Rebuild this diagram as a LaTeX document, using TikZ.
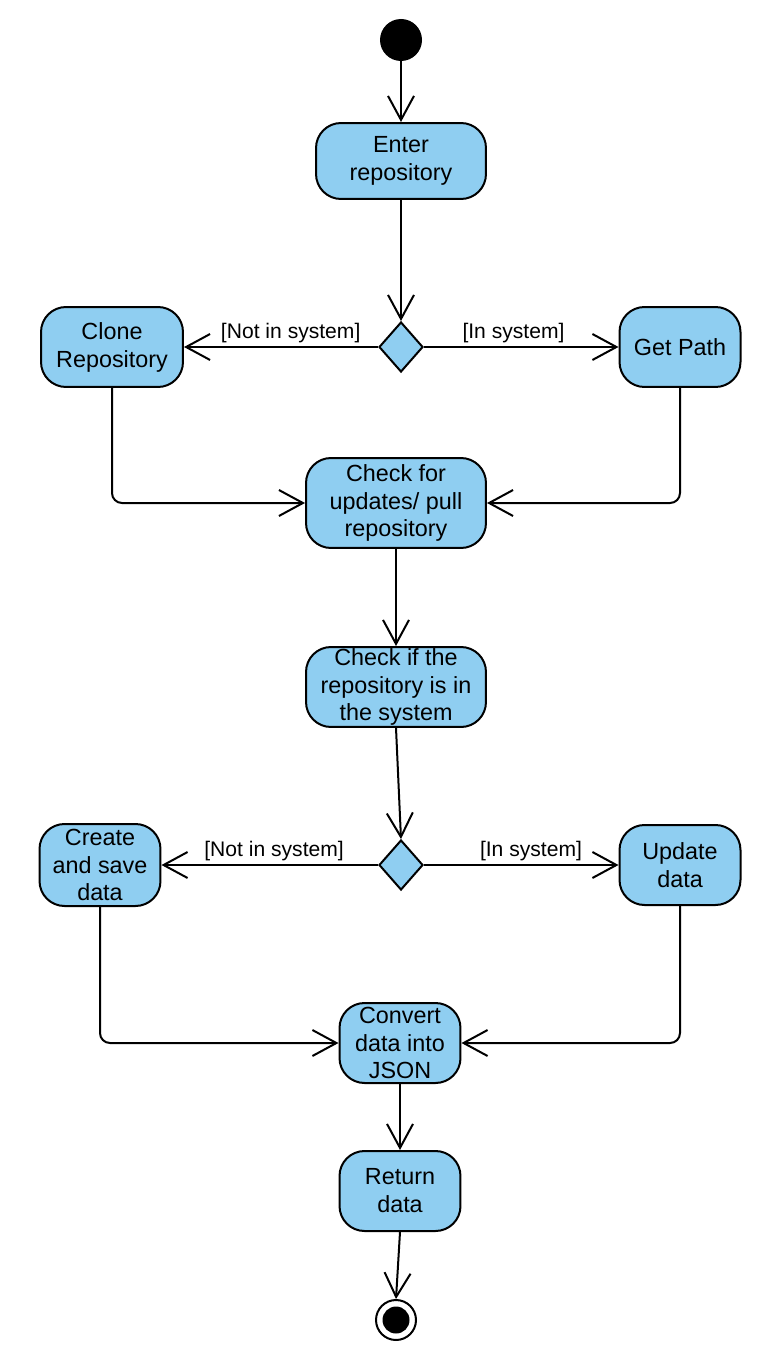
\documentclass[tikz,border=0pt]{standalone}
\usepackage{fontspec}
\setmainfont{Liberation Sans}
\usetikzlibrary{shapes.geometric,arrows.meta}
\definecolor{actblue}{RGB}{143,206,241}

\begin{document}
\begin{tikzpicture}[x=0.02cm,y=-0.02cm,
  act/.style={draw,rectangle,rounded corners=0.5cm,fill=actblue,line width=0.04cm,align=center,inner sep=0pt,font=\fontsize{13.3}{15.9}\selectfont},
  decide/.style={draw,diamond,fill=actblue,line width=0.04cm,inner sep=0pt,minimum width=0.88cm,minimum height=1cm},
  flow/.style={line width=0.04cm,-{Straight Barb[length=0.48cm,width=0.52cm]}},
  guard/.style={font=\fontsize{12}{14}\selectfont,inner sep=2pt}]
\useasboundingbox (0,0) rectangle (782,1354);

\node [circle,fill=black,minimum size=0.84cm,inner sep=0pt] (start) at(401,40){};
\node [act,minimum width=3.4cm,minimum height=1.52cm] (enter) at(401,161){Enter\\repository};
\node [decide] (dec1) at(401,347){};
\node [act,minimum width=2.84cm,minimum height=1.6cm] (clone) at(112,347){Clone\\Repository};
\node [act,minimum width=2.42cm,minimum height=1.6cm] (path) at(680,347){Get Path};
\node [act,minimum width=3.6cm,minimum height=1.8cm] (pull) at(396,503){Check for\\updates/ pull\\repository};
\node [act,minimum width=3.6cm,minimum height=1.6cm] (check) at(396,687){Check if the\\repository is in\\the system};
\node [decide] (dec2) at(401,865){};
\node [act,minimum width=2.42cm,minimum height=1.64cm] (create) at(100,865){Create\\and save\\data};
\node [act,minimum width=2.42cm,minimum height=1.6cm] (update) at(680,865){Update\\data};
\node [act,minimum width=2.42cm,minimum height=1.6cm] (json) at(400,1043){Convert\\data into\\JSON};
\node [act,minimum width=2.42cm,minimum height=1.6cm] (ret) at(400,1191){Return\\data};
\node [circle,draw,line width=0.04cm,fill=white,minimum size=0.8cm,inner sep=0pt] (stop) at(396,1320){};
\node [circle,fill=black,minimum size=0.54cm,inner sep=0pt] (stopdot) at(stop.center){};

\draw [flow] (start) -- (enter);
\draw [flow] (enter) -- (dec1);
\draw [flow] (dec1.west) -- node[guard,above,pos=0.45]{[Not in system]} (clone.east);
\draw [flow] (dec1.east) -- node[guard,above,pos=0.46]{[In system]} (path.west);
\draw [flow,rounded corners=0.2cm] (clone.south) |- (pull.west);
\draw [flow,rounded corners=0.2cm] (path.south) |- (pull.east);
\draw [flow] (pull) -- (check);
\draw [flow] (check.south) -- (dec2.north);
\draw [flow] (dec2.west) -- node[guard,above,pos=0.48]{[Not in system]} (create.east);
\draw [flow] (dec2.east) -- node[guard,above,pos=0.55]{[In system]} (update.west);
\draw [flow,rounded corners=0.2cm] (create.south) |- (json.west);
\draw [flow,rounded corners=0.2cm] (update.south) |- (json.east);
\draw [flow] (json) -- (ret);
\draw [flow] (ret.south) -- (stop.north);
\end{tikzpicture}
\end{document}
